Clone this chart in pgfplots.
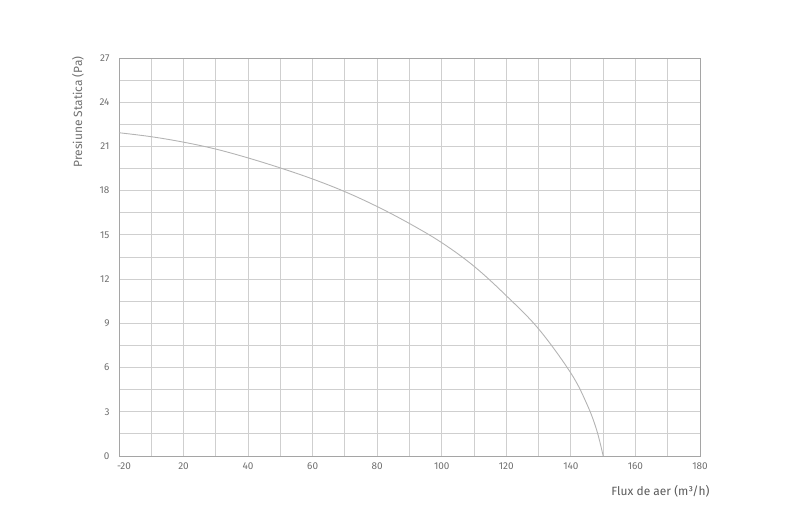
\documentclass[border=0pt]{standalone}
\usepackage{fontspec}
\setmainfont{Fira Sans}
\usepackage{pgfplots}
\pgfplotsset{compat=1.18}
\definecolor{txt}{HTML}{707070}
\definecolor{gridc}{HTML}{CFCFCF}
\definecolor{curve}{HTML}{B4B4B4}
\begin{document}
\begin{tikzpicture}
\path (0,0) rectangle (794bp,529bp);
\begin{axis}[
  at={(119bp,73bp)}, anchor=south west,
  scale only axis, width=581bp, height=398bp,
  xmin=0, xmax=180, ymin=0, ymax=27,
  xtick={0,20,...,180},
  xticklabels={\makebox[0pt][l]{\kern-2bp -20},20,40,60,80,100,120,140,160,\raisebox{2bp}{180}},
  ytick={0,3,...,27},
  minor x tick num=1, minor y tick num=1,
  grid=both,
  major grid style={gridc, line width=0.9bp},
  minor grid style={gridc, line width=0.9bp},
  axis line style={gridc!80!black, line width=0.9bp},
  major tick length=0pt, minor tick length=0pt,
  /pgf/number format/assume math mode=true,
  tick label style={font=\fontsize{10}{12}\selectfont, text=txt},
  yticklabel style={xshift=-6bp},
  xticklabel style={yshift=-3bp},
  clip=false,
]
\addplot[curve, line width=0.9bp, smooth, tension=0.6] coordinates {
(0,21.93) (10,21.66) (20,21.29) (30,20.82) (40,20.22) (50,19.54) (60,18.79)
(70,17.93) (80,16.92) (90,15.77) (100,14.47) (110,12.87) (120,10.87)
(130,8.62) (140,5.62) (145,3.5) (148,1.75) (150,0)
};
\end{axis}
\node[rotate=90, anchor=east, text=txt, font=\fontsize{12}{14}\selectfont] at (78bp,476bp) {Presiune Statica (Pa)};
\node[anchor=east, text=txt!80!black, font=\fontsize{12}{14}\selectfont] at (713bp,38bp) {Flux de aer (m³/h)};
\end{tikzpicture}
\end{document}
